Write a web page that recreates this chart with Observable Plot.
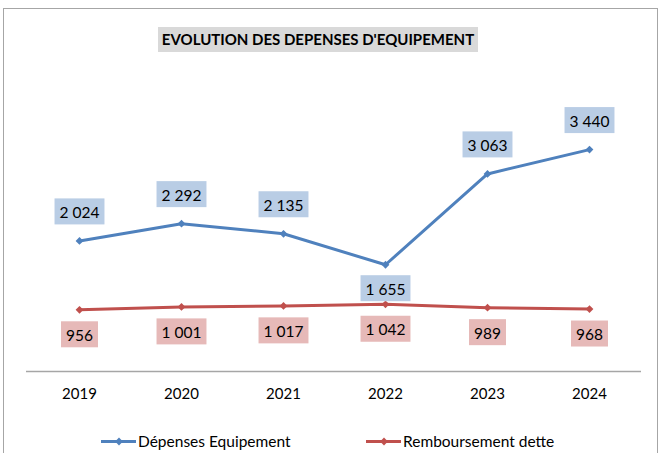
<!DOCTYPE html>
<html><head><meta charset="utf-8">
<script src="https://cdn.jsdelivr.net/npm/d3@7"></script>
<script src="https://cdn.jsdelivr.net/npm/@observablehq/plot@0.6"></script>
<style>
body{margin:0;background:#fff;}
#wrap{position:relative;width:661px;height:453px;overflow:hidden;font-family:Lato,sans-serif;color:#000;}
#wrap svg.plot{position:absolute;left:0;top:0;}
#border{position:absolute;left:3px;top:8px;width:655px;height:500px;border:1px solid #a6a6a6;border-bottom:none;box-sizing:border-box;pointer-events:none;}
#title{position:absolute;left:158px;top:27px;width:320px;height:25px;background:#d9d9d9;font-weight:bold;font-size:15px;line-height:25px;text-align:center;white-space:nowrap;}
.leg{position:absolute;top:432px;height:18px;display:flex;align-items:center;font-size:15.5px;white-space:nowrap;}
.leg svg{margin-right:2px;}
</style>
</head><body>
<div id="wrap">
  <div id="border"></div>
  <div id="title"></div>
</div>
<script>
const titleText = "EVOLUTION DES DEPENSES D'EQUIPEMENT";
const years = ["2019","2020","2021","2022","2023","2024"];
const depenses = [2024, 2292, 2135, 1655, 3063, 3440];
const remboursement = [956, 1001, 1017, 1042, 989, 968];
const seriesNames = ["Dépenses Equipement", "Remboursement dette"];
const lineColors = ["#4F81BD", "#C0504D"];
const labelFills = ["#B9CDE5", "#E6B9B8"];

const fr = d3.formatLocale({decimal: ",", thousands: " ", grouping: [3], currency: ["", " €"]});
const fmt = fr.format(",d");

const dep = years.map((y, i) => ({year: y, value: depenses[i], series: seriesNames[0]}));
const rem = years.map((y, i) => ({year: y, value: remboursement[i], series: seriesNames[1]}));
const data = dep.concat(rem);
const minDep = d3.min(depenses);
const depAbove = dep.filter(d => d.value !== minDep);
const depBelow = dep.filter(d => d.value === minDep);

document.getElementById("title").textContent = titleText;

const lblStyle = {x: "year", y: "value", text: d => fmt(d.value), fill: "#000", fontSize: 15.5, lineAnchor: "middle"};

const plot = Plot.plot({
  width: 661,
  height: 453,
  marginLeft: 26,
  marginRight: 20,
  marginTop: 113,
  marginBottom: 82,
  style: {fontFamily: "Lato, sans-serif", fontSize: "15px", color: "#000", background: "transparent"},
  x: {type: "point", domain: years, padding: 0.5},
  y: {domain: [0, 4000], axis: null},
  color: {domain: seriesNames, range: lineColors},
  marks: [
    Plot.ruleY([0], {stroke: "#a6a6a6", strokeWidth: 1.5}),
    Plot.line(data, {x: "year", y: "value", z: "series", stroke: "series", strokeWidth: 3}),
    Plot.dot(data, {x: "year", y: "value", fill: "series", symbol: "diamond2", r: 3.5, stroke: null}),
    Plot.text(depAbove, {...lblStyle, dy: -28, className: "lbl-a"}),
    Plot.text(depBelow, {...lblStyle, dy: 25, className: "lbl-a"}),
    Plot.text(rem, {...lblStyle, dy: 26, className: "lbl-b"}),
    Plot.axisX({tickSize: 0, tickPadding: 17, fontSize: 15, label: null})
  ]
});
plot.classList.add("plot");
const wrap = document.getElementById("wrap");
wrap.insertBefore(plot, wrap.firstChild);

const ns = "http://www.w3.org/2000/svg";
function boxes(cls, fill) {
  plot.querySelectorAll("g." + cls + " text").forEach(t => {
    const b = t.getBBox();
    const r = document.createElementNS(ns, "rect");
    const cy = b.y + b.height / 2 - 0.5;
    r.setAttribute("x", b.x - 5);
    r.setAttribute("y", cy - 13);
    r.setAttribute("width", b.width + 10);
    r.setAttribute("height", 26);
    r.setAttribute("fill", fill);
    const tr = t.getAttribute("transform");
    if (tr) r.setAttribute("transform", tr);
    t.parentNode.insertBefore(r, t);
  });
}
boxes("lbl-a", labelFills[0]);
boxes("lbl-b", labelFills[1]);

// legend
const legendX = [101, 366];
seriesNames.forEach((name, i) => {
  const item = document.createElement("div");
  item.className = "leg";
  item.style.left = legendX[i] + "px";
  const sw = Plot.plot({
    width: 35, height: 14, margin: 0,
    x: {domain: [0, 1], axis: null}, y: {domain: [0, 1], axis: null},
    marks: [
      Plot.ruleY([0.5], {stroke: lineColors[i], strokeWidth: 3}),
      Plot.dot([[0.5, 0.5]], {fill: lineColors[i], symbol: "diamond2", r: 3.5})
    ]
  });
  item.appendChild(sw);
  const s = document.createElement("span");
  s.textContent = name;
  item.appendChild(s);
  wrap.appendChild(item);
});
</script>
</body></html>
